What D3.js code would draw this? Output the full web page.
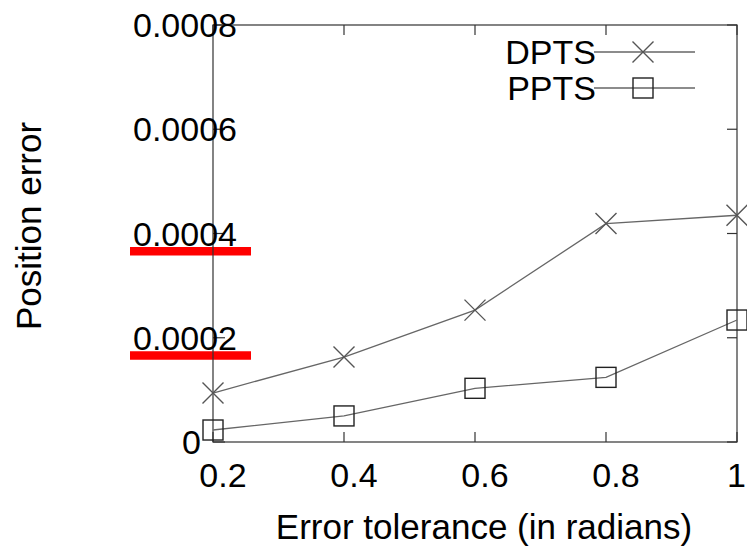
<!DOCTYPE html>
<html><head><meta charset="utf-8">
<script src="https://cdn.jsdelivr.net/npm/d3@7"></script>
<style>
body{margin:0;background:#fff;}
text{font-family:"Liberation Sans",Arial,sans-serif;fill:#000;}
</style></head>
<body><svg id="c" width="747" height="547"></svg>
<script>
const xValues = [0.2, 0.4, 0.6, 0.8, 1.0];
const dpts = [0.000094, 0.000163, 0.000253, 0.000419, 0.000435];
const ppts = [0.000023, 0.000050, 0.000103, 0.000124, 0.000234];
const seriesNames = ["DPTS", "PPTS"];
const xTicks = [0.2, 0.4, 0.6, 0.8, 1];
const xTickLabels = ["0.2", "0.4", "0.6", "0.8", "1"];
const yTicks = [0, 0.0002, 0.0004, 0.0006, 0.0008];
const yTickLabels = ["0", "0.0002", "0.0004", "0.0006", "0.0008"];
const highlighted = [0.0002, 0.0004];
const xTitle = "Error tolerance (in radians)";
const yTitle = "Position error";

const svg = d3.select("#c");
const L = 213, R = 737, T = 25, B = 442;
const x = d3.scaleLinear().domain([0.2, 1]).range([L, R]);
const y = d3.scaleLinear().domain([0, 0.0008]).range([B, T]);
const fs = 34, fsT = 35;
const axisCol = "#333";

// red highlight bars under labels
svg.selectAll("rect.hl").data(highlighted).enter().append("rect")
  .attr("x", 130).attr("width", 121)
  .attr("y", d => y(d) + 13.5).attr("height", 8.5)
  .attr("fill", "#ff0000");

// frame
svg.append("rect").attr("x", L).attr("y", T).attr("width", R - L).attr("height", B - T)
  .attr("fill", "none").attr("stroke", axisCol).attr("stroke-width", 1.2);

// ticks
const tl = 10;
xTicks.forEach(t => {
  svg.append("line").attr("x1", x(t)).attr("x2", x(t)).attr("y1", B).attr("y2", B - tl).attr("stroke", axisCol).attr("stroke-width", 1.2);
  svg.append("line").attr("x1", x(t)).attr("x2", x(t)).attr("y1", T).attr("y2", T + tl).attr("stroke", axisCol).attr("stroke-width", 1.2);
});
yTicks.forEach(t => {
  svg.append("line").attr("x1", L).attr("x2", L + tl + 2).attr("y1", y(t)).attr("y2", y(t)).attr("stroke", axisCol).attr("stroke-width", 1.2);
  svg.append("line").attr("x1", R).attr("x2", R - tl).attr("y1", y(t)).attr("y2", y(t)).attr("stroke", axisCol).attr("stroke-width", 1.2);
});

// tick labels
xTicks.forEach((t, i) => {
  const last = i === xTicks.length - 1;
  svg.append("text").attr("x", last ? 746 : x(t) + 10).attr("y", 487)
    .attr("text-anchor", last ? "end" : "middle")
    .attr("font-size", fs).text(xTickLabels[i]);
});
yTicks.forEach((t, i) => {
  const isZero = t === 0;
  svg.append("text").attr("x", isZero ? 201 : 133).attr("y", y(t) + 12)
    .attr("text-anchor", isZero ? "end" : "start")
    .attr("font-size", fs).text(yTickLabels[i]);
});

// titles
svg.append("text").attr("x", 484).attr("y", 539).attr("text-anchor", "middle").attr("font-size", fsT).text(xTitle);
svg.append("text").attr("transform", "translate(41,226) rotate(-90)").attr("text-anchor", "middle").attr("font-size", fsT).text(yTitle);

// series
const line = d3.line().x((d, i) => x(xValues[i])).y(d => y(d));
const lineCol = "#666";
[dpts, ppts].forEach(s => {
  svg.append("path").attr("d", line(s)).attr("fill", "none").attr("stroke", lineCol).attr("stroke-width", 1.3);
});

function cross(g, cx, cy) {
  const h = 10.5;
  g.append("path").attr("d", `M${cx-h},${cy-h}L${cx+h},${cy+h}M${cx-h},${cy+h}L${cx+h},${cy-h}`)
    .attr("stroke", "#555").attr("stroke-width", 1.4).attr("fill", "none");
}
function square(g, cx, cy) {
  const h = 10;
  g.append("rect").attr("x", cx - h).attr("y", cy - h).attr("width", 2 * h).attr("height", 2 * h)
    .attr("stroke", "#222").attr("stroke-width", 1.4).attr("fill", "none");
}
dpts.forEach((v, i) => cross(svg, x(xValues[i]), y(v)));
ppts.forEach((v, i) => square(svg, x(xValues[i]), y(v)));

// legend
const legY = [52, 88];
const markers = [cross, square];
seriesNames.forEach((n, i) => {
  svg.append("text").attr("x", 596).attr("y", legY[i] + 12).attr("text-anchor", "end").attr("font-size", fs).text(n);
  svg.append("line").attr("x1", 594).attr("x2", 695).attr("y1", legY[i]).attr("y2", legY[i]).attr("stroke", lineCol).attr("stroke-width", 1.3);
  markers[i](svg, 643, legY[i]);
});
</script></body></html>
